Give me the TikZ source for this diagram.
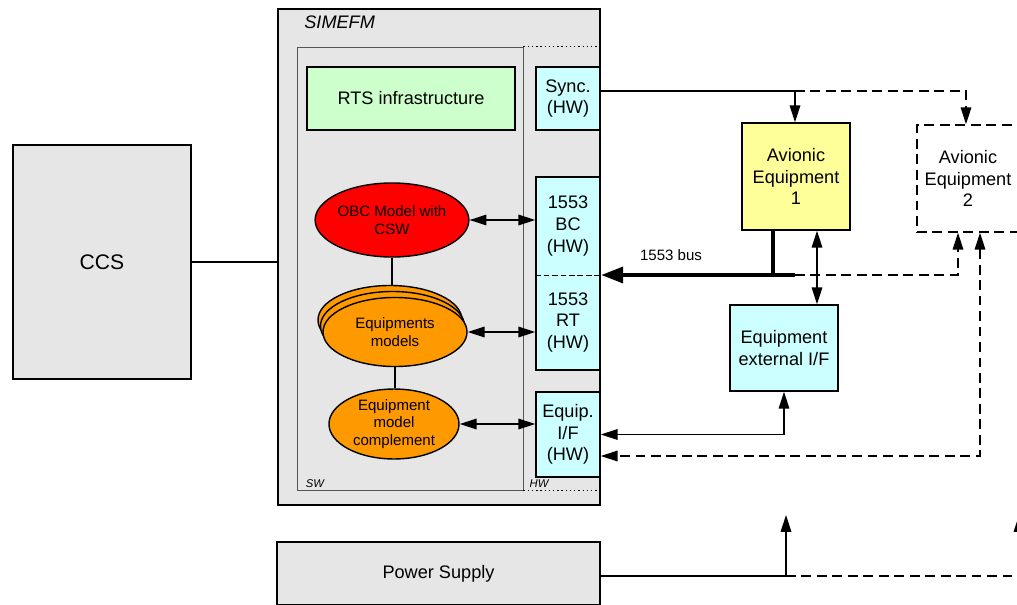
\documentclass[tikz,border=0pt]{standalone}
\usepackage{fontspec}
\setmainfont{Liberation Sans}
\usetikzlibrary{shapes.geometric,arrows.meta}
\definecolor{boxgray}{HTML}{E6E6E6}
\definecolor{swgray}{HTML}{555555}
\definecolor{rtsgreen}{HTML}{CCFFCC}
\definecolor{hwcyan}{HTML}{CCFFFF}
\definecolor{avyellow}{HTML}{FFFF99}
\definecolor{obcred}{HTML}{FF0000}
\definecolor{eqorange}{HTML}{FF9900}
\newcommand{\bigfont}{\fontsize{12.9}{15.5}\selectfont}
\newcommand{\smallfont}{\fontsize{10.7}{12.6}\selectfont}

\begin{document}
\begin{tikzpicture}[x=0.025cm,y=-0.025cm,
    every path/.style={line width=1pt},
    >={Triangle[length=12pt,width=7.5pt]},
    box/.style={draw,align=center,inner sep=1pt,font=\bigfont},
    graybox/.style={box,fill=boxgray},
    hwbox/.style={box,fill=hwcyan,minimum width=1.6cm},
    model/.style={draw,ellipse,inner sep=0pt,align=center,font=\smallfont},
    dashline/.style={dash pattern=on 7pt off 4pt},
    bus/.style={line width=3.5pt,-{Triangle[length=16pt,width=11pt]}}]
  \useasboundingbox (0,0) rectangle (1017,604);

  % CCS and simulator frame
  \node[graybox,minimum width=4.45cm,minimum height=5.85cm,font=\fontsize{15}{18}\selectfont] (ccs) at (102,262) {CCS};
  \node[graybox,minimum width=8.05cm,minimum height=12.4cm] (simefm) at (439,257) {};
  \node[anchor=west,font=\bigfont\itshape] (simefmlbl) at (299,22) {SIMEFM};
  \node[draw=swgray,line width=0.6pt,minimum width=5.65cm,minimum height=11.075cm] (sw) at (410,268.5) {};
  \draw[dotted,line width=0.6pt] (sw.north east) -- (sw.north east -| simefm.east);
  \draw[dotted,line width=0.6pt] (sw.south east) -- (sw.south east -| simefm.east);
  \node[font=\fontsize{8}{9}\selectfont\itshape] (swlbl) at (315,484) {SW};
  \node[font=\fontsize{8}{9}\selectfont\itshape] (hwlbl) at (539,484) {HW};

  % software side
  \node[box,fill=rtsgreen,minimum width=5.2cm,minimum height=1.575cm] (rts) at (411,98.5) {RTS infrastructure};
  \node[model,fill=obcred,minimum width=3.75cm,minimum height=1.85cm] (obc) at (392,220) {OBC Model with\\CSW};
  \node[model,fill=eqorange,minimum width=3.6cm,minimum height=1.725cm] (eqmb) at (390,320) {};
  \node[model,fill=eqorange,minimum width=3.6cm,minimum height=1.725cm] (eqmc) at (392.5,326) {};
  \node[model,fill=eqorange,minimum width=3.6cm,minimum height=1.725cm] (eqm) at (395,332) {Equipments\\models};
  \node[model,fill=eqorange,minimum width=3.25cm,minimum height=1.55cm] (comp) at (394,424) {Equipment\\model\\complement};

  % hardware side
  \node[hwbox,minimum height=1.575cm] (sync) at (568,98.5) {Sync.\\(HW)};
  \node[hwbox,minimum height=4.825cm] (bcrt) at (568,273.5) {};
  \node[align=center,font=\bigfont,minimum width=1.6cm,minimum height=2.45cm] (bc) at (568,226) {1553\\BC\\(HW)};
  \node[align=center,font=\bigfont,minimum width=1.6cm,minimum height=2.375cm] (rt) at (568,322.5) {1553\\RT\\(HW)};
  \draw[dash pattern=on 4pt off 2pt] (bc.south west) -- (bc.south east);
  \node[hwbox,minimum height=2.125cm] (equipif) at (568,434.5) {Equip.\\I/F\\(HW)};

  % equipment outside
  \node[box,fill=avyellow,minimum width=2.7cm,minimum height=2.675cm] (av1) at (796,176.5) {Avionic\\Equipment\\1};
  \node[box,dashline,minimum width=2.55cm,minimum height=2.675cm] (av2) at (968,178.5) {Avionic\\Equipment\\2};
  \node[hwbox,minimum width=2.7cm,minimum height=2.15cm] (ext) at (784,348) {Equipment\\external I/F};
  \node[graybox,minimum width=8.075cm,minimum height=1.575cm] (power) at (438.5,573.5) {Power Supply};

  \coordinate (jsync) at (795,91);
  \coordinate (jbus) at (795,275);
  \coordinate (jpow) at (786,576);
  \coordinate (powtip) at (786,515);
  \coordinate (powtipb) at (1019,515);

  % inner links
  \draw (obc.south) -- (obc.south |- eqmb.north);
  \draw (eqm.south) -- (eqm.south |- comp.north);
  \draw[<->] (obc.east) -- (obc.east -| bc.west);
  \draw[<->] (eqm.east) -- (eqm.east -| rt.west);
  \draw[<->] (comp.east) -- (comp.east -| equipif.west);

  % outer links
  \draw (ccs.east) -- (ccs.east -| simefm.west);
  \draw (jsync -| sync.east) -- (jsync);
  \draw[->] (jsync) -- (jsync |- av1.north);
  \draw[dashline,->] (jsync) -| ([xshift=-0.05cm]av2.north);
  \draw[bus] (jbus) -- (jbus -| bc.east);
  \draw[line width=3.5pt] ([xshift=-0.575cm]av1.south) -- ([xshift=-0.575cm]av1.south |- jbus);
  \node[font=\smallfont] (buslbl) at (671,255) {1553 bus};
  \draw[dashline,->] (jbus) -| ([xshift=-0.25cm]av2.south);
  \draw[dashline,<->] ([xshift=0.3cm]av2.south) |- ([yshift=-0.5375cm]equipif.east);
  \draw[<->] ([xshift=0.525cm]av1.south) -- ([xshift=0.525cm]av1.south |- ext.north);
  \draw[<->] (ext.south) |- (equipif.east);
  \draw (power.east |- jpow) -- (jpow);
  \draw[->] (jpow) -- (powtip);
  \draw[dashline,->] (jpow) -| (powtipb);
\end{tikzpicture}
\end{document}
